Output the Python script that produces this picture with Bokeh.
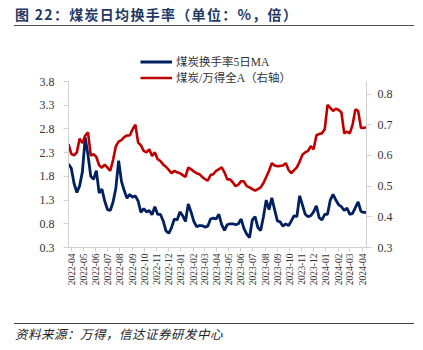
import math
import pandas as pd
from bokeh.plotting import figure
from bokeh.models import (Range1d, LinearAxis, FixedTicker, DatetimeTickFormatter,
                          Legend, LegendItem, NumeralTickFormatter, Div)
from bokeh.layouts import column
from bokeh.embed import file_html
from bokeh.resources import INLINE

# ---------------- data ----------------
title_text = "图 22：煤炭日均换手率（单位：%，倍）"
source_text = "资料来源：万得，信达证券研发中心"
name_turnover = "煤炭换手率5日MA"
name_ratio = "煤炭/万得全A（右轴）"

dates = pd.date_range("2022-03-25", periods=108, freq="7D")

turnover = [
    2.06, 1.97, 1.65, 1.46, 1.60, 1.90, 2.62, 2.25, 1.80, 1.74,
    1.92, 1.45, 1.53, 1.28, 1.10, 1.08, 1.26, 1.55, 2.13, 1.70,
    1.50, 1.34, 1.42, 1.36, 1.39, 1.28, 1.04, 1.12, 1.05, 1.08,
    0.99, 1.16, 1.00, 1.00, 0.86, 0.65, 0.60, 0.72, 0.90, 0.88,
    1.05, 0.97, 0.85, 1.22, 1.05, 0.85, 0.74, 0.76, 0.76, 0.73,
    0.75, 0.90, 0.92, 0.90, 1.00, 0.78, 0.66, 0.78, 0.80, 0.80,
    0.78, 0.80, 0.90, 0.70, 0.58, 0.51, 0.88, 0.95, 0.72, 0.66,
    0.95, 1.30, 1.10, 1.35, 1.10, 0.86, 0.84, 0.75, 0.80, 0.76,
    0.86, 0.97, 0.95, 1.39, 1.20, 1.00, 0.95, 0.97, 1.05, 1.18,
    0.93, 0.88, 1.00, 1.00, 1.30, 1.42, 1.30, 1.20, 1.16, 1.08,
    1.13, 1.00, 1.02, 1.14, 1.26, 1.06, 1.04, 1.04,
]

ratio = [
    0.637, 0.605, 0.600, 0.610, 0.655, 0.640, 0.665, 0.675, 0.600, 0.604,
    0.595, 0.568, 0.560, 0.570, 0.560, 0.550, 0.585, 0.630, 0.645, 0.650,
    0.660, 0.665, 0.665, 0.685, 0.700, 0.642, 0.633, 0.615, 0.610, 0.620,
    0.598, 0.610, 0.588, 0.582, 0.570, 0.563, 0.553, 0.542, 0.550, 0.545,
    0.542, 0.536, 0.530, 0.560, 0.555, 0.548, 0.542, 0.539, 0.530, 0.523,
    0.518, 0.536, 0.539, 0.550, 0.555, 0.561, 0.545, 0.522, 0.522, 0.512,
    0.500, 0.505, 0.517, 0.515, 0.500, 0.496, 0.490, 0.485, 0.490, 0.496,
    0.510, 0.530, 0.550, 0.575, 0.567, 0.565, 0.566, 0.567, 0.575, 0.553,
    0.542, 0.552, 0.561, 0.580, 0.602, 0.610, 0.615, 0.630, 0.620, 0.665,
    0.670, 0.672, 0.685, 0.765, 0.755, 0.745, 0.752, 0.748, 0.740, 0.672,
    0.678, 0.672, 0.700, 0.750, 0.745, 0.690, 0.690, 0.691,
]

month_labels = [
    "2022-04", "2022-05", "2022-06", "2022-07", "2022-08", "2022-09", "2022-10",
    "2022-11", "2022-12", "2023-01", "2023-02", "2023-03", "2023-04", "2023-05",
    "2023-06", "2023-07", "2023-08", "2023-09", "2023-10", "2023-11", "2023-12",
    "2024-01", "2024-02", "2024-03", "2024-04",
]
left_ticks = [0.3, 0.8, 1.3, 1.8, 2.3, 2.8, 3.3, 3.8]
right_ticks = [0.3, 0.4, 0.5, 0.6, 0.7, 0.8]
left_axis_span = (0.3, 3.8)
right_axis_span = (0.3, 0.841)

# ---------------- layout / styles ----------------
W = 423
CJK = "Noto Sans CJK SC"
SERIF = "Liberation Serif"
BLUE = "#002060"
RED = "#C00000"
AXIS = "#d0d0d0"
TXT = "#333333"

FRAME_H = 197          # frame extends above the axes to hold the legend
AXIS_H = 166           # pixel height of the drawn axes
left_top = left_axis_span[0] + (left_axis_span[1] - left_axis_span[0]) * FRAME_H / AXIS_H
right_top = right_axis_span[0] + (right_axis_span[1] - right_axis_span[0]) * FRAME_H / AXIS_H

# title banner (HTML text)
top = Div(width=W, height=30, margin=0, text=(
    '<div style="position:relative;width:423px;height:30px;margin:0;padding:0;">'
    '<div style="position:absolute;left:15px;top:4px;white-space:nowrap;'
    "font-family:'Noto Sans CJK SC';font-weight:bold;font-size:14px;line-height:20px;"
    'letter-spacing:1.3px;color:#1f3864;">' + title_text + '</div>'
    '<div style="position:absolute;left:14px;top:25px;width:400px;height:0;'
    'border-top:1.5px solid #505050;"></div></div>'))

# main chart
p = figure(width=W, height=285, x_axis_type="datetime",
           x_range=Range1d(dates[0], dates[-1]), y_range=Range1d(0.3, left_top),
           output_backend="svg", toolbar_location=None, margin=0,
           min_border_left=68, min_border_right=57, min_border_top=20,
           min_border_bottom=285 - 20 - FRAME_H)
p.outline_line_color = None
p.grid.visible = False
p.extra_y_ranges = {"right": Range1d(0.3, right_top)}

r_blue = p.line(dates, turnover, line_color=BLUE, line_width=2.8)
r_red = p.line(dates, ratio, line_color=RED, line_width=2.6, y_range_name="right")

month_ticks = [int(pd.Timestamp(m + "-01").value // 10**6) for m in month_labels]
xa = p.xaxis[0]
xa.ticker = FixedTicker(ticks=month_ticks)
xa.formatter = DatetimeTickFormatter(
    milliseconds="%Y-%m", seconds="%Y-%m", minsec="%Y-%m", minutes="%Y-%m",
    hourmin="%Y-%m", hours="%Y-%m", days="%Y-%m", months="%Y-%m", years="%Y-%m")
xa.major_label_orientation = math.pi / 2
xa.major_label_text_font = SERIF
xa.major_label_text_font_size = "9.5px"
xa.major_label_text_color = TXT
xa.major_label_standoff = 2
xa.major_tick_out = 4
xa.major_tick_in = 0
xa.minor_tick_out = 0
xa.minor_tick_in = 0
xa.axis_line_color = AXIS
xa.major_tick_line_color = AXIS

ya = p.yaxis[0]
ya.ticker = FixedTicker(ticks=left_ticks)
ya.formatter = NumeralTickFormatter(format="0.0")
ya.bounds = left_axis_span

yr = LinearAxis(y_range_name="right", ticker=FixedTicker(ticks=right_ticks),
                formatter=NumeralTickFormatter(format="0.0"), bounds=right_axis_span)
p.add_layout(yr, "right")

for ax, standoff in ((ya, 9), (yr, 6)):
    ax.major_label_text_font = SERIF
    ax.major_label_text_font_size = "12px"
    ax.major_label_text_color = TXT
    ax.major_label_standoff = standoff
    ax.major_tick_out = 5
    ax.major_tick_in = 0
    ax.minor_tick_out = 0
    ax.minor_tick_in = 0
    ax.axis_line_color = AXIS
    ax.major_tick_line_color = AXIS

legend = Legend(items=[LegendItem(label=name_turnover, renderers=[r_blue]),
                       LegendItem(label=name_ratio, renderers=[r_red])],
                location=(72, 162), orientation="vertical")
legend.label_text_font = SERIF + ", " + CJK
legend.label_text_font_size = "11.5px"
legend.label_text_color = TXT
legend.glyph_width = 32
legend.glyph_height = 15
legend.label_height = 15
legend.label_standoff = 4
legend.spacing = 0
legend.padding = 0
legend.margin = 0
legend.border_line_color = None
legend.background_fill_alpha = 0
p.add_layout(legend)

# footer banner (HTML text)
bot = Div(width=W, height=35, margin=0, text=(
    '<div style="position:relative;width:423px;height:35px;margin:0;padding:0;">'
    '<div style="position:absolute;left:14px;top:8px;width:400px;height:0;'
    'border-top:1.2px solid #404040;"></div>'
    '<div style="position:absolute;left:15px;top:11px;white-space:nowrap;'
    "font-family:'Noto Sans CJK SC';font-style:italic;font-size:12.5px;line-height:16px;"
    'letter-spacing:0.5px;color:#222222;">' + source_text + '</div></div>'))

layout = column(top, p, bot, spacing=0, margin=0)
open("out.html", "w").write(file_html(layout, INLINE))
